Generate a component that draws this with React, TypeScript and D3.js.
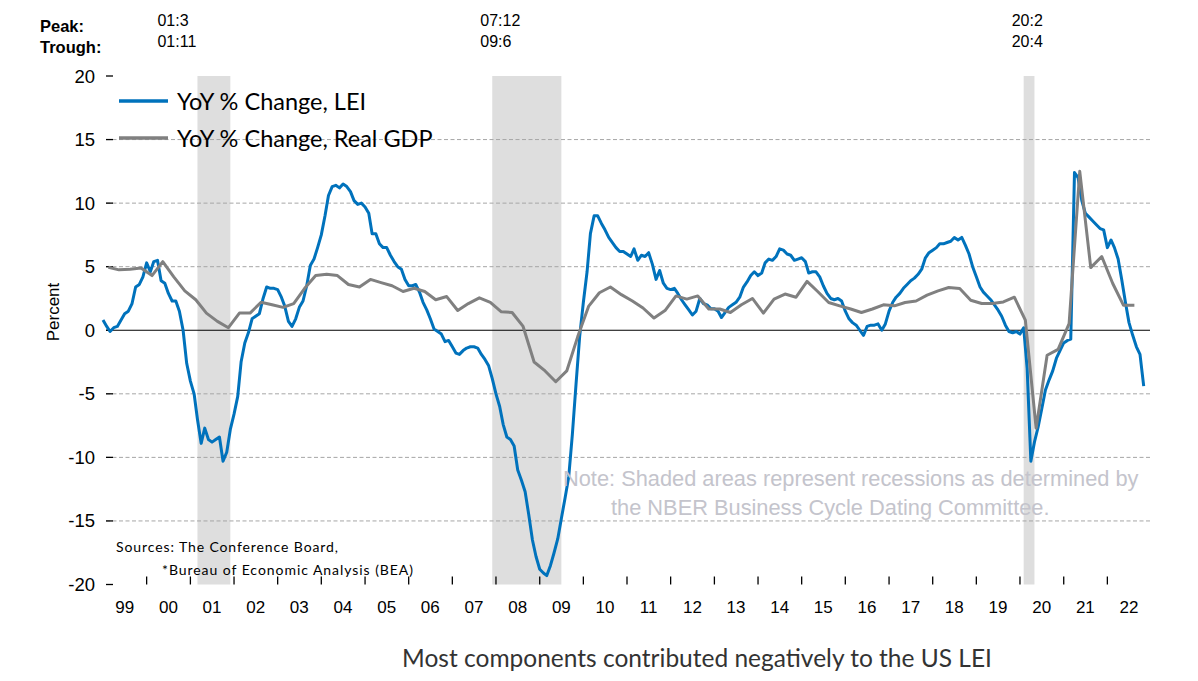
import React from "react";
import * as d3 from "d3";

// ---------- DATA ----------
// Monthly YoY % change of the LEI, Jan 1999 .. Nov 2022
const leiStart = { year: 1999, month: 0 };
const leiValues: number[] = [
  // 1999
  0.8, 0.3, -0.1, 0.2, 0.3, 0.8, 1.3, 1.5, 2.1, 3.4, 3.6, 4.2,
  // 2000
  5.3, 4.6, 5.4, 5.5, 3.9, 3.7, 2.9, 2.3, 2.3, 1.5, 0.0, -2.6,
  // 2001
  -4.0, -5.0, -7.0, -8.9, -7.7, -8.6, -8.8, -8.6, -8.4, -10.3, -9.6, -7.8,
  // 2002
  -6.6, -5.2, -2.5, -1.0, -0.2, 0.9, 1.1, 1.3, 2.5, 3.4, 3.3, 3.3,
  // 2003
  3.2, 2.6, 1.9, 0.7, 0.3, 0.9, 1.8, 2.3, 3.5, 5.1, 5.6, 6.5,
  // 2004
  7.5, 9.0, 10.6, 11.3, 11.4, 11.2, 11.5, 11.3, 10.9, 10.2, 9.9, 10.0,
  // 2005
  9.7, 9.2, 7.6, 7.6, 6.8, 6.5, 6.5, 5.9, 5.4, 5.0, 4.8, 4.0,
  // 2006
  3.5, 3.5, 3.6, 3.0, 2.2, 1.6, 0.9, 0.1, -0.1, -0.3, -0.9, -0.8,
  // 2007
  -1.3, -1.8, -1.9, -1.6, -1.4, -1.3, -1.3, -1.4, -1.9, -2.3, -2.8, -3.8,
  // 2008
  -5.0, -6.0, -7.4, -8.4, -8.6, -9.1, -11.0, -11.8, -12.7, -14.5, -16.5, -17.8,
  // 2009
  -18.8, -19.1, -19.3, -18.5, -17.5, -16.4, -14.8, -13.2, -11.5, -8.2, -4.2, -0.5,
  // 2010
  2.2, 4.6, 7.6, 9.0, 9.0, 8.4, 7.9, 7.3, 6.9, 6.5, 6.2, 6.2,
  // 2011
  6.0, 5.8, 6.4, 5.5, 5.9, 5.8, 6.1, 5.2, 4.0, 4.7, 3.7, 3.3,
  // 2012
  3.2, 3.3, 2.9, 2.4, 2.0, 1.6, 1.2, 1.5, 2.5, 2.1, 2.0, 1.7,
  // 2013
  1.7, 1.5, 1.0, 1.4, 1.8, 2.0, 2.2, 2.6, 3.4, 3.8, 4.3, 4.6,
  // 2014
  4.3, 4.5, 5.3, 5.6, 5.5, 5.8, 6.4, 6.3, 6.0, 5.9, 5.5, 5.6,
  // 2015
  5.7, 5.4, 4.5, 4.6, 4.6, 4.2, 3.5, 2.9, 2.5, 2.4, 2.5, 2.3,
  // 2016
  1.5, 0.9, 0.6, 0.4, 0.0, -0.4, 0.3, 0.4, 0.4, 0.5, 0.0, 0.5,
  // 2017
  1.5, 2.2, 2.6, 2.9, 3.3, 3.6, 3.9, 4.1, 4.4, 4.8, 5.7, 6.1,
  // 2018
  6.3, 6.5, 6.8, 6.8, 6.9, 7.0, 7.3, 7.1, 7.3, 6.7, 6.0, 5.0,
  // 2019
  4.2, 3.4, 3.0, 2.7, 2.4, 2.0, 1.6, 1.1, 0.4, -0.1, -0.2, -0.1,
  // 2020
  -0.3, 0.2, -3.0, -10.3, -8.8, -7.6, -6.2, -4.7, -3.9, -3.2, -2.2, -1.6,
  // 2021
  -1.0, -0.8, -0.7, 12.4, 12.0, 10.2, 9.2, 8.9, 8.6, 8.3, 8.0, 7.9,
  // 2022
  6.5, 7.1, 6.5, 5.6, 4.0, 2.2, 0.6, -0.4, -1.3, -1.9, -4.4,
];

// Quarterly YoY % change of real GDP, 1999Q1 .. 2022Q3
const gdpStartYear = 1999;
const gdpValues: number[] = [
  4.95, 4.75, 4.8, 4.9, // 1999
  4.3, 5.4, 4.2, 3.1, // 2000
  2.4, 1.35, 0.7, 0.2, // 2001
  1.35, 1.35, 2.2, 2.0, // 2002
  1.8, 2.1, 3.3, 4.3, // 2003
  4.4, 4.3, 3.6, 3.4, // 2004
  4.0, 3.75, 3.5, 3.05, // 2005
  3.3, 3.05, 2.4, 2.65, // 2006
  1.55, 2.1, 2.55, 2.2, // 2007
  1.45, 1.4, 0.3, -2.5, // 2008
  -3.2, -4.05, -3.2, -0.5, // 2009
  1.9, 2.95, 3.4, 2.8, // 2010
  2.3, 1.75, 0.96, 1.55, // 2011
  2.7, 2.45, 2.7, 1.67, // 2012
  1.67, 1.4, 2.0, 2.5, // 2013
  1.35, 2.45, 2.85, 2.6, // 2014
  3.84, 3.05, 2.18, 1.92, // 2015
  1.67, 1.4, 1.67, 2.0, // 2016
  1.92, 2.18, 2.3, 2.76, // 2017
  3.1, 3.36, 3.28, 2.36, // 2018
  2.1, 2.1, 2.23, 2.6, // 2019
  0.79, -7.7, -1.97, -1.5, // 2020
  0.52, 12.5, 4.93, 5.8, // 2021
  3.68, 1.97, 1.97, // 2022
];

// NBER recessions (peak month, trough month)
const recessionPeaks = ["2001-03", "2007-12", "2020-02"];
const recessionTroughs = ["2001-11", "2009-06", "2020-04"];
const peakLabels = ["01:3", "07:12", "20:2"];
const troughLabels = ["01:11", "09:6", "20:4"];

const yTicks = [20, 15, 10, 5, 0, -5, -10, -15, -20];
const xYears = d3.range(1999, 2023);
const yearLabels = xYears.map((y) => String(y % 100).padStart(2, "0"));

const legendLabels = ["YoY % Change, LEI", "YoY % Change, Real GDP"];
const noteLines = [
  "Note: Shaded areas represent recessions as determined by",
  "the NBER Business Cycle Dating Committee.",
];
const sourceLines = ["Sources: The Conference Board,", "*Bureau of Economic Analysis (BEA)"];
const titleText = "Most components contributed negatively to the US LEI";

// ---------- LAYOUT ----------
const W = 1198;
const H = 681;
const plotLeft = 103;
const plotRight = 1151;
const plotTop = 76;
const plotBottom = 584.5;
const recLabelDx = [-40, -12, -12];
const LEI_COLOR = "#0072BC";
const GDP_COLOR = "#808080";
const SANS = "'Liberation Sans', Arial, sans-serif";
const CAL = "Lato, 'Open Sans', sans-serif";

type Pt = { date: Date; value: number };

export default function App() {
  const x = d3
    .scaleTime()
    .domain([new Date(1999, 0, 1), new Date(2023, 0, 1)])
    .range([plotLeft, plotRight]);
  const y = d3.scaleLinear().domain([-20, 20]).range([plotBottom, plotTop]);

  const leiData: Pt[] = leiValues.map((v, i) => ({
    date: new Date(leiStart.year, leiStart.month + i, 1),
    value: v,
  }));
  const gdpData: Pt[] = gdpValues.map((v, i) => ({
    date: new Date(gdpStartYear + Math.floor(i / 4), (i % 4) * 3 + 1, 15),
    value: v,
  }));

  const line = d3
    .line<Pt>()
    .x((d) => x(d.date))
    .y((d) => y(d.value));

  const parseMonth = (s: string) => {
    const [yy, mm] = s.split("-").map(Number);
    return new Date(yy, mm - 1, 1);
  };

  const recessions = recessionPeaks.map((p, i) => {
    const start = parseMonth(p);
    const t = parseMonth(recessionTroughs[i]);
    const end = new Date(t.getFullYear(), t.getMonth() + 1, 1);
    return { x0: x(start), x1: x(end), peak: peakLabels[i], trough: troughLabels[i], dx: recLabelDx[i] };
  });

  const gridLeft = plotLeft + 3;
  const gridRight = plotRight - 1;

  return (
    <div style={{ position: "absolute", left: 0, top: 0 }}>
      <svg width={W} height={H} style={{ display: "block", background: "#fff" }}>
        {/* recession shading */}
        {recessions.map((r, i) => (
          <rect key={"rec" + i} x={r.x0} y={plotTop} width={r.x1 - r.x0} height={plotBottom - plotTop} fill="#DEDEDE" />
        ))}

        {/* gridlines */}
        {yTicks.filter((t) => t !== 0 && t !== -20 && t !== 20).map((t) => (
          <line
            key={"g" + t}
            x1={gridLeft}
            x2={gridRight}
            y1={y(t)}
            y2={y(t)}
            stroke="#A6A6A6"
            strokeWidth={1}
            strokeDasharray="4 2.5"
          />
        ))}
        <line x1={gridLeft} x2={gridRight} y1={y(0)} y2={y(0)} stroke="#000" strokeWidth={1.2} />

        {/* y ticks + labels */}
        {yTicks.map((t) => (
          <g key={"yt" + t}>
            <line x1={gridLeft} x2={gridLeft + 7} y1={y(t)} y2={y(t)} stroke="#000" strokeWidth={1.3} />
            <text
              x={95}
              y={y(t)}
              textAnchor="end"
              dominantBaseline="central"
              fontFamily={SANS}
              fontSize={18.5}
              fill="#000"
            >
              {t}
            </text>
          </g>
        ))}
        <text
          transform={`translate(53,312) rotate(-90)`}
          textAnchor="middle"
          dominantBaseline="central"
          fontFamily={SANS}
          fontSize={17}
          fill="#000"
        >
          Percent
        </text>

        {/* x ticks + labels */}
        {xYears.slice(1).map((yr) => (
          <line
            key={"xt" + yr}
            x1={x(new Date(yr, 0, 1))}
            x2={x(new Date(yr, 0, 1))}
            y1={plotBottom - 8}
            y2={plotBottom}
            stroke="#000"
            strokeWidth={1.3}
          />
        ))}
        {xYears.map((yr, i) => (
          <text
            key={"xl" + yr}
            x={x(new Date(yr, 6, 1))}
            y={607}
            textAnchor="middle"
            dominantBaseline="central"
            fontFamily={SANS}
            fontSize={17}
            fill="#000"
          >
            {yearLabels[i]}
          </text>
        ))}

        {/* series */}
        <path d={line(leiData) || ""} fill="none" stroke={LEI_COLOR} strokeWidth={3} strokeLinejoin="round" />
        <path d={line(gdpData) || ""} fill="none" stroke={GDP_COLOR} strokeWidth={3} strokeLinejoin="round" />

        {/* peak / trough header */}
        <text x={40} y={32} fontFamily={SANS} fontWeight="bold" fontSize={16.5} fill="#000">
          Peak:
        </text>
        <text x={40} y={53} fontFamily={SANS} fontWeight="bold" fontSize={16.5} fill="#000">
          Trough:
        </text>
        {recessions.map((r, i) => (
          <g key={"rl" + i}>
            <text x={r.x0 + r.dx} y={26} fontFamily={SANS} fontSize={16} fill="#000">
              {r.peak}
            </text>
            <text x={r.x0 + r.dx} y={47} fontFamily={SANS} fontSize={16} fill="#000">
              {r.trough}
            </text>
          </g>
        ))}

        {/* legend */}
        {[LEI_COLOR, GDP_COLOR].map((c, i) => (
          <g key={"lg" + i}>
            <line x1={119} x2={168} y1={101 + i * 37} y2={101 + i * 37} stroke={c} strokeWidth={3.5} />
            <text
              x={177}
              y={101 + i * 37}
              dominantBaseline="central"
              fontFamily={CAL}
              fontSize={23.5}
              fill="#000"
            >
              {legendLabels[i]}
            </text>
          </g>
        ))}

        {/* note */}
        <text x={563} y={486} fontFamily={SANS} fontSize={21.8} fill="#C4C4CC">
          {noteLines[0]}
        </text>
        <text x={611} y={515} fontFamily={SANS} fontSize={21.8} fill="#C4C4CC">
          {noteLines[1]}
        </text>

        {/* sources */}
        <text x={116} y={546} dominantBaseline="central" fontFamily={CAL} fontSize={14} letterSpacing={0.9} fill="#000">
          {sourceLines[0]}
        </text>
        <text x={162} y={569} dominantBaseline="central" fontFamily={CAL} fontSize={14} letterSpacing={0.95} fill="#000">
          {sourceLines[1]}
        </text>

        {/* bottom title */}
        <text
          x={697}
          y={657}
          textAnchor="middle"
          dominantBaseline="central"
          fontFamily={CAL}
          fontSize={24.5}
          fill="#333"
        >
          {titleText}
        </text>
      </svg>
    </div>
  );
}
